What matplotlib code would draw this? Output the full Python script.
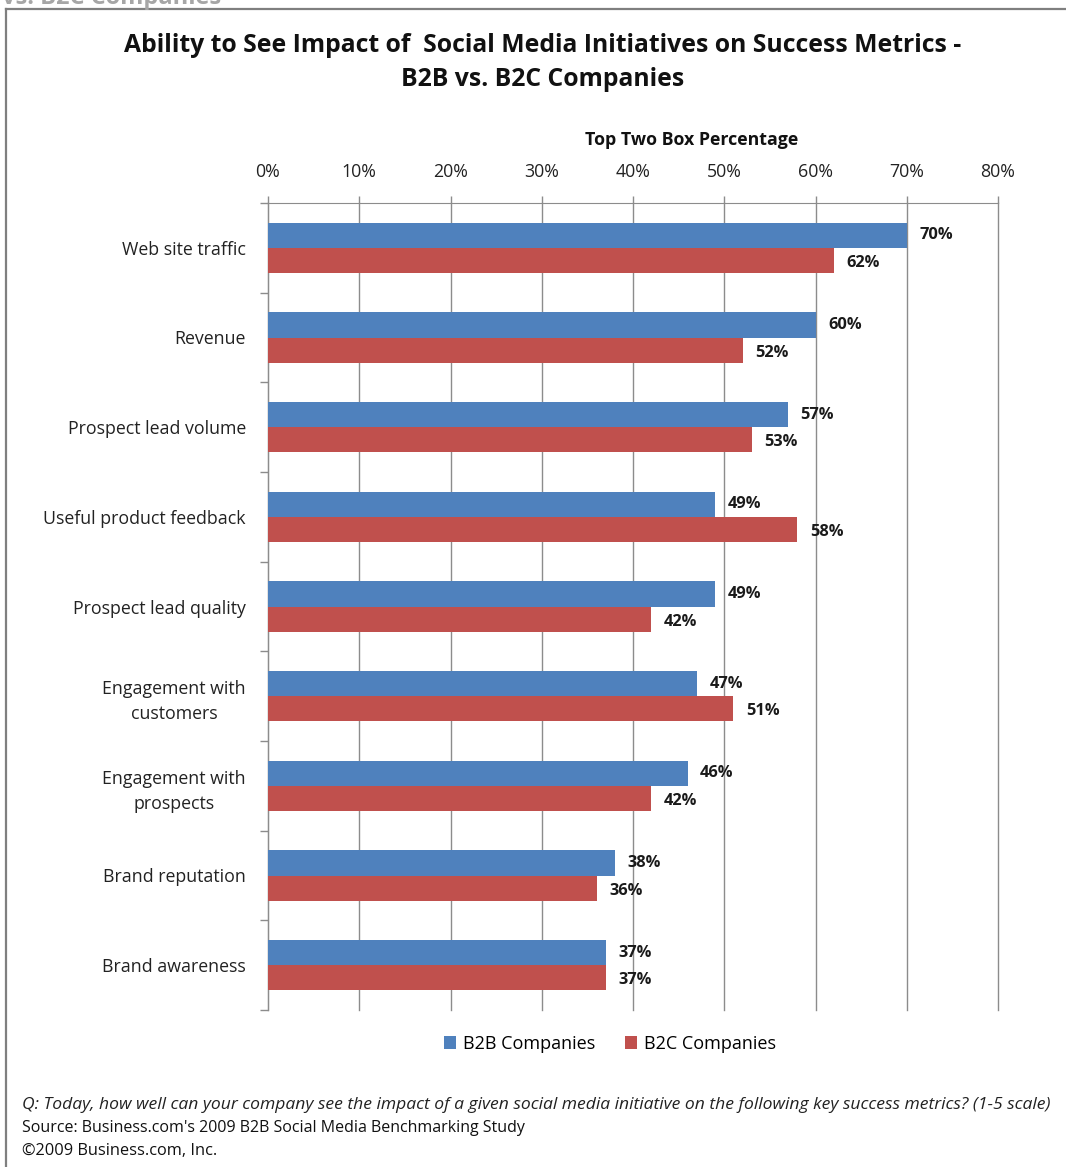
import matplotlib
matplotlib.use("Agg")
import matplotlib.pyplot as plt
import numpy as np
from matplotlib.lines import Line2D

categories = [
    "Web site traffic",
    "Revenue",
    "Prospect lead volume",
    "Useful product feedback",
    "Prospect lead quality",
    "Engagement with\ncustomers",
    "Engagement with\nprospects",
    "Brand reputation",
    "Brand awareness",
]
b2b = [70, 60, 57, 49, 49, 47, 46, 38, 37]
b2c = [62, 52, 53, 58, 42, 51, 42, 36, 37]
series_names = ["B2B Companies", "B2C Companies"]
x_ticks = [0, 10, 20, 30, 40, 50, 60, 70, 80]

BLUE = "#4F81BD"
RED = "#C0504D"
GRID = "#8C8C8C"
FONT = "Open Sans"

W, H = 1066, 1167
fig = plt.figure(figsize=(W / 100, H / 100), dpi=100)
fig.patch.set_facecolor("white")

# frame around the chart
fig.add_artist(Line2D([6 / W, 6 / W], [0, 1 - 9 / H], transform=fig.transFigure,
                      color="#7F7F7F", lw=1.6))
fig.add_artist(Line2D([6 / W, 1], [1 - 9 / H, 1 - 9 / H], transform=fig.transFigure,
                      color="#7F7F7F", lw=1.6))
fig.text(2 / W, 1 + 2 / H, "vs. B2C Companies", ha="left", va="center",
         fontsize=17, fontweight="bold", color="#A6A6A6", family=FONT)

ax = fig.add_axes([268 / W, 1 - 1010 / H, (998 - 268) / W, (1010 - 203) / H])

n = len(categories)
y = np.arange(n)
bh = 0.28
ax.barh(y - bh / 2, b2b, height=bh, color=BLUE, label=series_names[0], zorder=3)
ax.barh(y + bh / 2, b2c, height=bh, color=RED, label=series_names[1], zorder=3)

for yi, v in zip(y - bh / 2, b2b):
    ax.annotate(f"{v}%", (v, yi), xytext=(9, 0), textcoords="offset points",
                ha="left", va="center", fontsize=11.8, fontweight="bold",
                family=FONT, color="#1A1A1A")
for yi, v in zip(y + bh / 2, b2c):
    ax.annotate(f"{v}%", (v, yi), xytext=(9, -2), textcoords="offset points",
                ha="left", va="center", fontsize=11.8, fontweight="bold",
                family=FONT, color="#1A1A1A")

ax.set_xlim(0, 80)
ax.set_ylim(n - 0.5, -0.5)

ax.xaxis.tick_top()
ax.xaxis.set_label_position("top")
ax.set_xticks(x_ticks)
ax.set_xticklabels([f"{t}%" for t in x_ticks], fontsize=12.8, family=FONT, color="#222222")
ax.tick_params(axis="x", length=5, width=1, color=GRID, pad=11)
ax.set_xlabel("Top Two Box Percentage", fontsize=12.8, fontweight="bold",
              family=FONT, color="#111111")
ax.xaxis.set_label_coords((692 - 268) / (998 - 268), 1 + (203 - 140) / (1010 - 203))
ax.xaxis.get_label().set_va("center")
ax.xaxis.grid(True, color=GRID, lw=1, zorder=0)
for gl in ax.get_xgridlines():
    gl.set_clip_on(False)

# category labels centred in their bands; ticks at band edges
ax.set_yticks(np.arange(n + 1) - 0.5, minor=False)
ax.set_yticklabels([])
ax.tick_params(axis="y", length=6, width=1, color=GRID)
ax.set_yticks(y, minor=True)
ax.set_yticklabels(categories, minor=True, fontsize=12.8, family=FONT,
                   color="#222222", multialignment="center", linespacing=1.5)
ax.tick_params(axis="y", which="minor", length=0, pad=16)

for s in ["right", "bottom"]:
    ax.spines[s].set_visible(False)
ax.spines["top"].set_color(GRID)
ax.spines["left"].set_color(GRID)

fig.text(543 / W, 1 - 45 / H,
         "Ability to See Impact of  Social Media Initiatives on Success Metrics -",
         ha="center", va="center", fontsize=17.8, fontweight="bold", family=FONT,
         color="#111111")
fig.text(543 / W, 1 - 79 / H, "B2B vs. B2C Companies", ha="center", va="center",
         fontsize=17.8, fontweight="bold", family=FONT, color="#111111")

leg = fig.legend(loc="center", bbox_to_anchor=(610 / W, 1 - 1044 / H), ncol=2,
                 frameon=False, prop={"family": FONT, "size": 13},
                 handlelength=0.7, handleheight=0.7, handletextpad=0.4,
                 columnspacing=1.6)

fig.text(22 / W, 1 - 1105 / H,
         "Q: Today, how well can your company see the impact of a given social media "
         "initiative on the following key success metrics? (1-5 scale)",
         ha="left", va="center", fontsize=12.6, style="italic", family=FONT,
         color="#222222")
fig.text(22 / W, 1 - 1128 / H, "Source: Business.com's 2009 B2B Social Media Benchmarking Study",
         ha="left", va="center", fontsize=11.5, family=FONT, color="#111111")
fig.text(22 / W, 1 - 1151 / H, "\u00a92009 Business.com, Inc.",
         ha="left", va="center", fontsize=11.8, family=FONT, color="#111111")

fig.savefig("out.png", dpi=100)
